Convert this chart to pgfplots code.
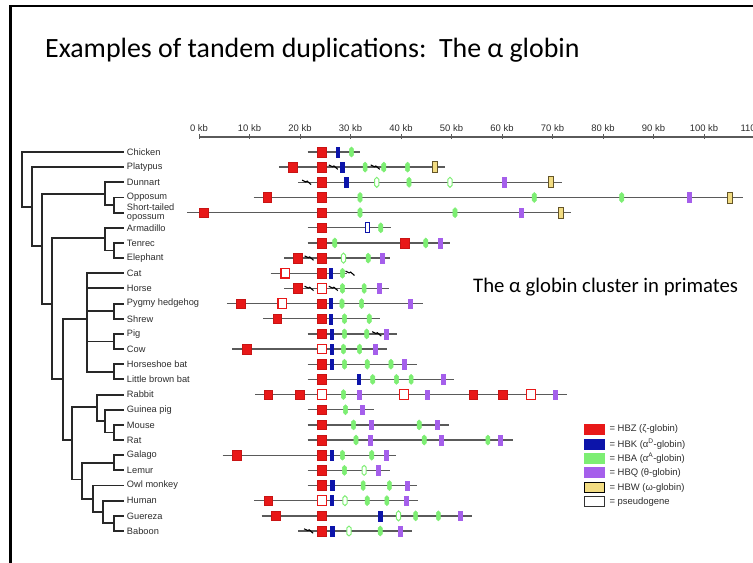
\documentclass[border=0pt]{standalone}
\usepackage{pgfplots}
\pgfplotsset{compat=1.18}
\usepackage{fontspec}
\setmainfont{Liberation Sans}
\newfontfamily\carlito{Carlito}
\definecolor{gz}{RGB}{232,24,24}
\definecolor{gzd}{RGB}{200,20,20}
\definecolor{gk}{RGB}{12,20,170}
\definecolor{ga}{RGB}{125,238,115}
\definecolor{gq}{RGB}{165,95,235}
\definecolor{gw}{RGB}{242,220,130}
\definecolor{gwd}{RGB}{100,85,40}
\definecolor{bb}{RGB}{90,90,90}
\definecolor{treec}{RGB}{40,40,40}
\definecolor{lab}{RGB}{45,45,45}
\pgfdeclareplotmark{zbox}{\pgfpathrectangle{\pgfpoint{-4.4bp}{-4.8bp}}{\pgfpoint{8.8bp}{9.6bp}}\pgfusepathqfillstroke}
\pgfdeclareplotmark{kbox}{\pgfpathrectangle{\pgfpoint{-1.8bp}{-5bp}}{\pgfpoint{3.6bp}{10bp}}\pgfusepathqfillstroke}
\pgfdeclareplotmark{ahex}{\pgfpathmoveto{\pgfpoint{0bp}{5bp}}\pgfpathlineto{\pgfpoint{2.1bp}{3bp}}\pgfpathlineto{\pgfpoint{2.1bp}{-3bp}}\pgfpathlineto{\pgfpoint{0bp}{-5bp}}\pgfpathlineto{\pgfpoint{-2.1bp}{-3bp}}\pgfpathlineto{\pgfpoint{-2.1bp}{3bp}}\pgfpathclose\pgfusepathqfillstroke}
\pgfdeclareplotmark{qbox}{\pgfpathrectangle{\pgfpoint{-2bp}{-4.8bp}}{\pgfpoint{4bp}{9.6bp}}\pgfusepathqfillstroke}
\pgfdeclareplotmark{wbox}{\pgfpathrectangle{\pgfpoint{-2.5bp}{-5.5bp}}{\pgfpoint{5bp}{11bp}}\pgfusepathqfillstroke}
\pgfdeclareplotmark{brk}{\pgfpathmoveto{\pgfpoint{-4.5bp}{2.2bp}}\pgfpathlineto{\pgfpoint{-0.8bp}{0.4bp}}\pgfpathlineto{\pgfpoint{0.6bp}{1.2bp}}\pgfpathlineto{\pgfpoint{4.5bp}{-2.2bp}}\pgfusepathqstroke}
\pgfdeclareplotmark{leg}{\pgfpathrectangle{\pgfpoint{-9.8bp}{-5bp}}{\pgfpoint{19.6bp}{10bp}}\pgfusepathqfillstroke}
\begin{document}
\begin{tikzpicture}
\begin{axis}[
  scale only axis, width=753bp, height=563bp,
  xmin=-39.406, xmax=109.703, ymin=-10.026, ymax=27.111,
  y dir=reverse, hide axis, clip=true, unbounded coords=jump,
]
% slide frame
\addplot[black, line width=2.6bp, line join=miter] coordinates {(112,-9.63) (-37.33,-9.63) (-37.33,28)};
% titles
\node[anchor=base west, inner sep=0pt, font=\carlito\fontsize{28}{32}\selectfont] at (axis cs:-30.5,-6.23) {Examples of tandem duplications:\ \ The α globin};
\node[anchor=base west, inner sep=0pt, font=\carlito\fontsize{20.8}{24}\selectfont] at (axis cs:54.26,9.28) {The α globin cluster in primates};
% scale bar
\addplot[bb, line width=1.2bp, mark=|, mark size=2.5bp, mark options={bb, line width=1bp}] coordinates {(0,-0.99) (10,-0.99) (20,-0.99) (30,-0.99) (40,-0.99) (50,-0.99) (60,-0.99) (70,-0.99) (80,-0.99) (90,-0.99) (100,-0.99) (110,-0.99) (112,-0.99)};
\foreach \k in {0,10,...,110} {
  \edef\tmp{\noexpand\node[anchor=base, inner sep=0pt, font=\noexpand\fontsize{9.5}{10}\noexpand\selectfont, text=lab] at (axis cs:\k,-1.38) {\k\ kb};}
  \tmp
}
% tree
\addplot[treec, line width=1.9bp, line cap=rect] coordinates {
(-35.11,0) (-35.11,3.6) (nan,nan) (-35.11,0) (-15.05,0) (nan,nan) (-35.11,3.6) (-33.13,3.6) (nan,nan)
(-33.13,1) (-33.13,6.2) (nan,nan) (-33.13,1) (-15.05,1) (nan,nan) (-33.13,6.2) (-31.15,6.2) (nan,nan)
(-31.15,2.75) (-31.15,10) (nan,nan) (-31.15,2.75) (-18.61,2.75) (nan,nan) (-31.15,10) (-29.17,10) (nan,nan)
(-18.61,2) (-18.61,3.5) (nan,nan) (-18.61,2) (-15.05,2) (nan,nan) (-18.61,3.5) (-16.8,3.5) (nan,nan)
(-16.8,3) (-16.8,4) (nan,nan) (-16.8,3) (-15.05,3) (nan,nan) (-16.8,4) (-15.05,4) (nan,nan)
(-29.17,5.7) (-29.17,15) (nan,nan) (-29.17,5.7) (-18.61,5.7) (nan,nan) (-29.17,15) (-26.99,15) (nan,nan)
(-18.61,5) (-18.61,6.5) (nan,nan) (-18.61,5) (-15.05,5) (nan,nan) (-18.61,6.5) (-16.8,6.5) (nan,nan)
(-16.8,6) (-16.8,7) (nan,nan) (-16.8,6) (-15.05,6) (nan,nan) (-16.8,7) (-15.05,7) (nan,nan)
(-26.99,11) (-26.99,19) (nan,nan) (-26.99,11) (-22.12,11) (nan,nan) (-26.99,19) (-25.21,19) (nan,nan)
(-22.12,8) (-22.12,14.5) (nan,nan) (-22.12,8) (-15.05,8) (nan,nan) (-22.12,9) (-15.05,9) (nan,nan)
(-22.12,10.5) (-16.8,10.5) (nan,nan) (-22.12,12.5) (-16.8,12.5) (nan,nan) (-22.12,14.5) (-16.8,14.5) (nan,nan)
(-16.8,10) (-16.8,11) (nan,nan) (-16.8,10) (-15.05,10) (nan,nan) (-16.8,11) (-15.05,11) (nan,nan)
(-16.8,12) (-16.8,13) (nan,nan) (-16.8,12) (-15.05,12) (nan,nan) (-16.8,13) (-15.05,13) (nan,nan)
(-16.8,14) (-16.8,15) (nan,nan) (-16.8,14) (-15.05,14) (nan,nan) (-16.8,15) (-15.05,15) (nan,nan)
(-25.21,16.8) (-25.21,21.6) (nan,nan) (-25.21,16.8) (-20.26,16.8) (nan,nan) (-25.21,21.6) (-23.11,21.6) (nan,nan)
(-20.26,16) (-20.26,17.75) (nan,nan) (-20.26,16) (-15.05,16) (nan,nan) (-20.26,17.75) (-18.61,17.75) (nan,nan)
(-18.61,17) (-18.61,18.5) (nan,nan) (-18.61,17) (-15.05,17) (nan,nan) (-18.61,18.5) (-16.8,18.5) (nan,nan)
(-16.8,18) (-16.8,19) (nan,nan) (-16.8,18) (-15.05,18) (nan,nan) (-16.8,19) (-15.05,19) (nan,nan)
(-23.11,20.5) (-23.11,22.9) (nan,nan) (-23.11,20.5) (-16.8,20.5) (nan,nan) (-23.11,22.9) (-21.05,22.9) (nan,nan)
(-16.8,20) (-16.8,21) (nan,nan) (-16.8,20) (-15.05,20) (nan,nan) (-16.8,21) (-15.05,21) (nan,nan)
(-21.05,22) (-21.05,23.75) (nan,nan) (-21.05,22) (-15.05,22) (nan,nan) (-21.05,23.75) (-19.07,23.75) (nan,nan)
(-19.07,23) (-19.07,24.5) (nan,nan) (-19.07,23) (-15.05,23) (nan,nan) (-19.07,24.5) (-16.8,24.5) (nan,nan)
(-16.8,24) (-16.8,25) (nan,nan) (-16.8,24) (-15.05,24) (nan,nan) (-16.8,25) (-15.05,25)
};
% species labels
\begin{scope}[every node/.style={anchor=west, inner sep=0pt, text=lab, font=\fontsize{9.3}{8.3}\selectfont}]
\node at (axis cs:-14.3,0) {Chicken};
\node at (axis cs:-14.3,1) {Platypus};
\node at (axis cs:-14.3,2) {Dunnart};
\node at (axis cs:-14.3,3) {Opposum};
\node[align=left] at (axis cs:-14.3,4) {Short-tailed\\opossum};
\node at (axis cs:-14.3,5) {Armadillo};
\node at (axis cs:-14.3,6) {Tenrec};
\node at (axis cs:-14.3,7) {Elephant};
\node at (axis cs:-14.3,8) {Cat};
\node at (axis cs:-14.3,9) {Horse};
\node at (axis cs:-14.3,10) {Pygmy hedgehog};
\node at (axis cs:-14.3,11) {Shrew};
\node at (axis cs:-14.3,12) {Pig};
\node at (axis cs:-14.3,13) {Cow};
\node at (axis cs:-14.3,14) {Horseshoe bat};
\node at (axis cs:-14.3,15) {Little brown bat};
\node at (axis cs:-14.3,16) {Rabbit};
\node at (axis cs:-14.3,17) {Guinea pig};
\node at (axis cs:-14.3,18) {Mouse};
\node at (axis cs:-14.3,19) {Rat};
\node at (axis cs:-14.3,20) {Galago};
\node at (axis cs:-14.3,21) {Lemur};
\node at (axis cs:-14.3,22) {Owl monkey};
\node at (axis cs:-14.3,23) {Human};
\node at (axis cs:-14.3,24) {Guereza};
\node at (axis cs:-14.3,25) {Baboon};
\end{scope}
% backbones
\addplot[bb, line width=1.4bp] coordinates {
(21.5,0) (31.9,0) (nan,nan) (15.8,1) (48.8,1) (nan,nan) (19.7,2) (71.9,2) (nan,nan)
(10.8,3) (107.7,3) (nan,nan) (-2.3,4) (73.6,4) (nan,nan) (21.5,5) (38.0,5) (nan,nan)
(21.5,6) (49.7,6) (nan,nan) (16.9,7) (37.8,7) (nan,nan) (14.2,8) (29.4,8) (nan,nan)
(16.9,9) (37.7,9) (nan,nan) (5.5,10) (44.4,10) (nan,nan) (12.7,11) (35.8,11) (nan,nan)
(21.5,12) (39.3,12) (nan,nan) (6.6,13) (37.3,13) (nan,nan) (21.5,14) (43.1,14) (nan,nan)
(21.5,15) (50.4,15) (nan,nan) (11.1,16) (72.9,16) (nan,nan) (21.5,17) (34.7,17) (nan,nan)
(21.5,18) (49.5,18) (nan,nan) (21.5,19) (62.2,19) (nan,nan) (4.7,20) (39.0,20) (nan,nan)
(21.5,21) (37.8,21) (nan,nan) (21.5,22) (43.2,22) (nan,nan) (10.9,23) (43.4,23) (nan,nan)
(12.4,24) (54.0,24) (nan,nan) (19.7,25) (42.1,25)
};
% HBZ zeta
\addplot[only marks, mark=zbox, mark options={fill=gz, draw=gzd, line width=0.5bp}] coordinates {
(24.3,0) (18.5,1) (24.3,1) (24.3,2) (13.5,3) (24.3,3) (0.9,4) (24.3,4) (24.3,5)
(24.3,6) (40.7,6) (19.5,7) (24.3,7) (24.3,8) (19.5,9) (8.2,10) (24.3,10)
(15.5,11) (24.3,11) (24.3,12) (9.4,13) (24.3,14) (24.3,15)
(13.7,16) (20.0,16) (54.3,16) (60.1,16) (24.3,17) (24.3,18) (24.3,19)
(7.5,20) (24.3,20) (24.3,21) (24.3,22) (13.7,23) (15.2,24) (24.3,24) (24.3,25)
};
\addplot[only marks, mark=zbox, mark options={fill=white, draw=gz, line width=1.2bp}] coordinates {
(17.1,8) (24.3,9) (16.5,10) (24.3,13) (24.3,16) (40.6,16) (65.7,16) (24.3,23)
};
% HBK kappa
\addplot[only marks, mark=kbox, mark options={fill=gk, draw=gk, line width=0.4bp}] coordinates {
(27.5,0) (28.4,1) (29.2,2) (26.1,8) (26.1,10) (26.1,11) (26.3,12) (26.3,13)
(26.3,14) (31.6,15) (26.3,20) (26.4,22) (26.3,23) (35.9,24) (26.4,25)
};
\addplot[only marks, mark=kbox, mark options={fill=white, draw=gk, line width=1bp}] coordinates {(33.4,5)};
% HBA alpha
\addplot[only marks, mark=ahex, mark options={fill=ga, draw=ga, line width=0.5bp}] coordinates {
(30.2,0) (32.9,1) (36.6,1) (41.3,1) (41.6,2) (31.9,3) (66.4,3) (83.7,3)
(31.9,4) (50.7,4) (36.0,5) (26.9,6) (44.9,6) (33.5,7) (28.4,8) (28.4,9) (32.7,9)
(28.3,10) (32.2,10) (28.8,11) (33.7,11) (28.8,12) (33.2,12) (28.6,13) (31.8,13)
(28.8,14) (33.3,14) (38.0,14) (34.4,15) (39.1,15) (42.0,15) (28.6,16) (29.0,17)
(30.6,18) (43.6,18) (31.1,19) (44.6,19) (57.2,19) (28.4,20) (34.2,20) (28.8,21)
(32.5,22) (37.7,22) (33.3,23) (37.2,23) (42.9,24) (47.4,24) (35.9,25)
};
\addplot[only marks, mark=ahex, mark options={fill=white, draw=ga, line width=1bp}] coordinates {
(35.2,2) (49.7,2) (28.6,7) (32.7,21) (28.9,23) (39.5,24) (29.7,25)
};
% HBQ theta
\addplot[only marks, mark=qbox, mark options={fill=gq, draw=gq, line width=0.4bp}] coordinates {
(60.4,2) (97.1,3) (63.8,4) (47.7,6) (36.2,7) (35.6,9) (41.9,10) (37.0,12) (34.9,13)
(40.7,14) (48.4,15) (31.7,16) (45.2,16) (70.6,16) (32.3,17) (34.1,18) (47.1,18)
(33.9,19) (47.9,19) (59.6,19) (37.0,20) (35.5,21) (41.3,22) (41.0,23) (51.7,24) (39.9,25)
};
% HBW omega
\addplot[only marks, mark=wbox, mark options={fill=gw, draw=gwd, line width=0.8bp}] coordinates {
(46.7,1) (69.6,2) (105.1,3) (71.6,4)
};
% breaks
\addplot[only marks, mark=brk, mark options={draw=black, line width=1.1bp}] coordinates {
(26.6,1) (34.9,1) (21.3,2) (21.8,7) (29.9,8) (21.8,9) (26.6,9) (35.2,12) (21.7,25)
};
% legend
\addplot[only marks, mark=leg, mark options={fill=gz, draw=gz}] coordinates {(78.25,18.29)};
\addplot[only marks, mark=leg, mark options={fill=gk, draw=gk}] coordinates {(78.25,19.26)};
\addplot[only marks, mark=leg, mark options={fill=ga, draw=ga}] coordinates {(78.25,20.2)};
\addplot[only marks, mark=leg, mark options={fill=gq, draw=gq}] coordinates {(78.25,21.15)};
\addplot[only marks, mark=leg, mark options={fill=gw, draw=black, line width=0.9bp}] coordinates {(78.25,22.14)};
\addplot[only marks, mark=leg, mark options={fill=white, draw=black!80, line width=0.9bp}] coordinates {(78.25,23.07)};
\begin{scope}[every node/.style={anchor=west, inner sep=0pt, text=lab, font=\fontsize{9.5}{10}\selectfont}]
\node at (axis cs:81.25,18.29) {= HBZ (ζ-globin)};
\node at (axis cs:81.25,19.26) {= HBK (α\textsuperscript{D}-globin)};
\node at (axis cs:81.25,20.2) {= HBA (α\textsuperscript{A}-globin)};
\node at (axis cs:81.25,21.15) {= HBQ (θ-globin)};
\node at (axis cs:81.25,22.14) {= HBW (ω-globin)};
\node at (axis cs:81.25,23.07) {= pseudogene};
\end{scope}
\end{axis}
\pgfresetboundingbox
\useasboundingbox (0,0) rectangle (753bp,563bp);
\end{tikzpicture}
\end{document}
